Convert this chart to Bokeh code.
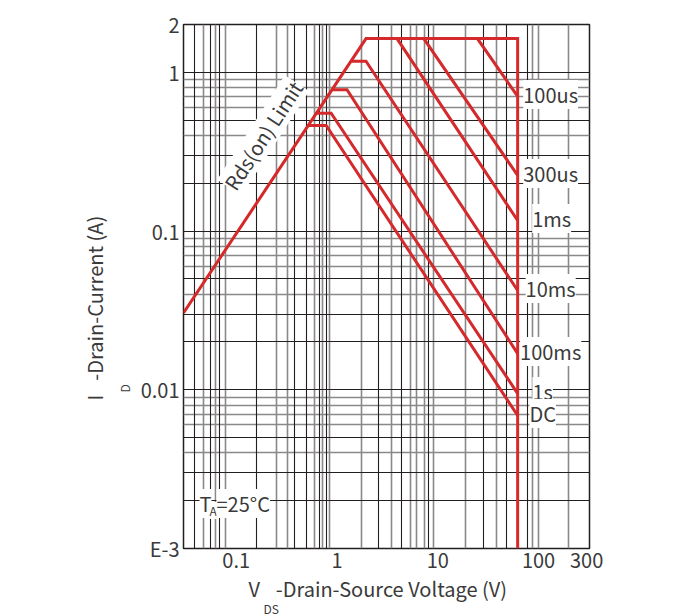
import math
from bokeh.plotting import figure
from bokeh.models import (ColumnDataSource, FixedTicker, Grid, Label, LabelSet, Range1d, Title)
from bokeh.embed import file_html
from bokeh.resources import INLINE
from bokeh.core.properties import value

# ---------------- data ----------------
x_ticks = [0.1, 1, 10, 100, 300]
x_tick_labels = ["0.1", "1", "10", "100", "300"]
y_ticks = [0.001, 0.01, 0.1, 1, 2]
y_tick_labels = ["E-3", "0.01", "0.1", "1", "2"]

# Rds(on) limit line (V, A)
rds_v = [0.03, 1.94]
rds_i = [0.0305, 1.63]

# maximum voltage / current
v_max = 62
i_max = 1.63

# pulse curves: plateau current, knee voltage (end of plateau), current at v_max
curve_names = ["100us", "300us", "1ms", "10ms", "100ms", "1s", "DC"]
plateau_i = [1.63, 1.63, 1.63, 1.175, 0.776, 0.552, 0.462]
knee_v = [24.7, 7.26, 3.94, 1.94, 1.257, 0.875, 0.781]
end_i = [0.704, 0.224, 0.1165, 0.0422, 0.0169, 0.00946, 0.00688]

# decorative grid of the original datasheet picture
grid_v_dark = [0.039, 0.055, 0.069, 0.16, 0.38, 0.5, 0.67, 0.79, 2.6, 4.4, 8.1, 28.4, 47.7, 77]
grid_v_light = [0.047, 0.062, 0.078, 0.25, 0.32, 0.6, 0.72, 0.84, 1.74, 3.5, 5.4, 6.2, 7.3, 9.1,
                18.8, 38, 88, 99, 200]
grid_h_mult_dark = [1, 2, 3, 5]
grid_h_mult_light = [4, 6, 7, 8, 9]
decades = [0.001, 0.01, 0.1]

RED = "#d42a2b"
DARK = "#231f1e"
LIGHT = "#8a8888"
TXT = "#3a3a3a"
FONT = "Noto Sans CJK SC"

p = figure(width=681, height=616, x_axis_type="log", y_axis_type="log",
           x_range=Range1d(0.03, 320), y_range=Range1d(0.001, 2),
           output_backend="svg", toolbar_location=None,
           min_border_left=183, min_border_right=92, min_border_top=24, min_border_bottom=68)
p.xgrid.visible = False
p.ygrid.visible = False
p.outline_line_color = DARK
p.outline_line_width = 1.5
p.background_fill_color = "white"
p.border_fill_color = "white"

for ax, ticks, labs in ((p.xaxis[0], x_ticks, x_tick_labels), (p.yaxis[0], y_ticks, y_tick_labels)):
    ax.ticker = FixedTicker(ticks=ticks)
    ax.major_label_overrides = {t: l for t, l in zip(ticks, labs)}
    ax.axis_line_color = None
    ax.major_tick_line_color = None
    ax.minor_tick_line_color = None
    ax.major_tick_out = 0
    ax.major_label_text_font = FONT
    ax.major_label_text_font_size = "20px"
    ax.major_label_text_color = TXT
    ax.major_label_standoff = 4

# grid
h_dark = [d * m for d in decades for m in grid_h_mult_dark] + [1]
h_light = [d * m for d in decades for m in grid_h_mult_light]
for dim, ticks, col, w in ((0, grid_v_light, LIGHT, 1.6), (1, h_light, LIGHT, 1.6),
                           (0, grid_v_dark, DARK, 1.1), (1, h_dark, DARK, 1.1)):
    p.add_layout(Grid(dimension=dim, ticker=FixedTicker(ticks=ticks),
                      grid_line_color=col, grid_line_width=w))

# curves
la0, lv0 = math.log10(rds_i[0]), math.log10(rds_v[0])
slope = (math.log10(rds_i[1]) - la0) / (math.log10(rds_v[1]) - lv0)
xs, ys = [], []
xs.append(rds_v + [v_max, v_max])
ys.append(rds_i + [i_max, 0.001])
for pi_, kv, ei in zip(plateau_i, knee_v, end_i):
    v_start = 10 ** (lv0 + (math.log10(pi_) - la0) / slope)
    xs.append([v_start, kv, v_max])
    ys.append([pi_, pi_, ei])
p.multi_line(xs, ys, line_color=RED, line_width=3, line_join="miter")

# curve labels
label_dx = [33, 33, 34, 33, 33, 25, 25]
src = ColumnDataSource(dict(x=[v_max] * len(curve_names), y=end_i, t=curve_names, dx=label_dx))
p.add_layout(LabelSet(x="x", y="y", text="t", source=src, x_offset="dx", y_offset=2,
                      text_align="center", text_baseline="middle",
                      text_font=value(FONT), text_font_size="20px", text_color=TXT,
                      background_fill_color="white"))

# Rds(on) Limit label
p.add_layout(Label(x=0.185, y=0.40, text="Rds(on) Limit", angle=57, angle_units="deg",
                   text_align="center", text_baseline="middle", text_font=FONT,
                   text_font_size="20px", text_color=TXT,
                   background_fill_color="white"))

# T_A = 25°C (screen units relative to frame)
for txt, x, y, fs in (("T", 16, 45, "20px"), ("A", 26, 38, "12px"), ("=25°C", 33, 45, "20px")):
    p.add_layout(Label(x=x, y=y, x_units="screen", y_units="screen", text=txt,
                       text_align="left", text_baseline="alphabetic", text_font=FONT,
                       text_font_size=fs, text_color=TXT,
                       background_fill_color="white"))

# axis titles as side-panel titles (not clipped to the frame)
def title(text, size, offset, standoff):
    return Title(text=text, align="left", offset=offset, standoff=standoff,
                 text_font=FONT, text_font_size=size, text_font_style="normal",
                 text_color=TXT)

p.add_layout(title("V\u2002\u00a0\u200a-Drain-Source Voltage (V)", "20px", 65, 3), "below")
p.add_layout(title("DS", "12px", 80, -13), "below")
p.add_layout(title("D", "12px", 156, 10), "left")
p.add_layout(title("I\u2002\u2009-Drain-Current (A)", "20px", 148, 0), "left")

open("out.html", "w").write(file_html(p, INLINE))
